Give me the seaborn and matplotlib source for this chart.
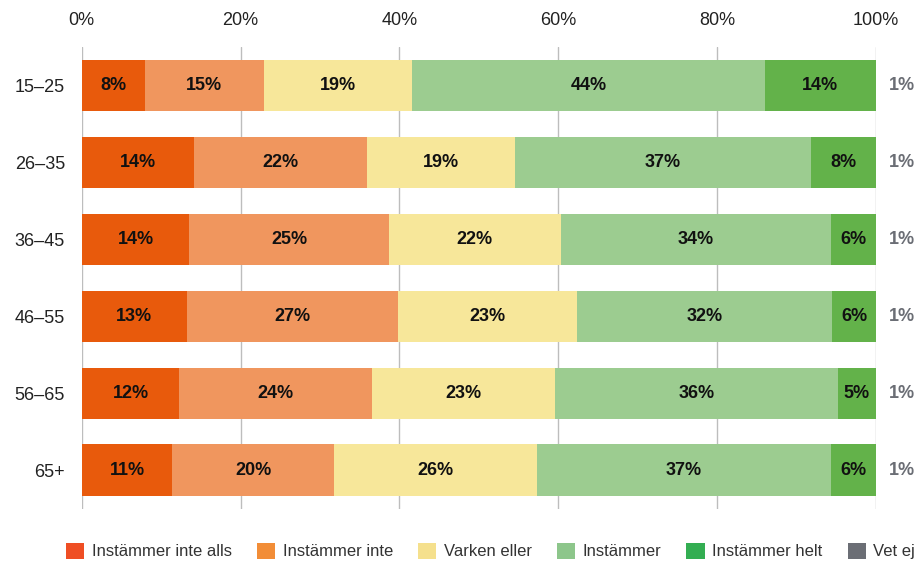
import numpy as np
import pandas as pd
import matplotlib.pyplot as plt
from matplotlib.patches import Patch
import seaborn as sns

groups = ["15–25", "26–35", "36–45", "46–55", "56–65", "65+"]
categories = ["Instämmer inte alls", "Instämmer inte", "Varken eller",
              "Instämmer", "Instämmer helt", "Vet ej"]

inte_alls = [8.0, 14.1, 13.55, 13.2, 12.3, 11.4]
inte = [14.9, 21.8, 25.1, 26.6, 24.2, 20.4]
varken = [18.7, 18.7, 21.7, 22.6, 23.1, 25.55]
instammer = [44.4, 37.2, 33.95, 32.0, 35.6, 37.0]
helt = [14.0, 8.2, 5.7, 5.7, 4.8, 5.65]
vet_ej = [1, 1, 1, 1, 1, 1]

bar_colors = ["#E85A0C", "#F0965E", "#F7E79A", "#9CCC90", "#63B24A", "#6B6E75"]
legend_colors = ["#EF4E24", "#F28D37", "#F5E08D", "#8DC68B", "#33AE52", "#6B6E75"]

series = [inte_alls, inte, varken, instammer, helt, vet_ej]
df = pd.DataFrame({c: v for c, v in zip(categories, series)}, index=groups)
cum = df.cumsum(axis=1)
starts = cum - df

sns.set_theme(style="whitegrid")
plt.rcParams["font.family"] = ["Liberation Sans", "DejaVu Sans"]

fig = plt.figure(figsize=(9.17, 5.63), dpi=100)
ax = fig.add_axes([0.0891, 0.0968, 0.8662, 0.8197])

# stacked bars: draw cumulative totals from the last layer to the first
for cat, col in reversed(list(zip(categories, bar_colors))):
    sns.barplot(x=cum[cat].values, y=groups, orient="h", color=col,
                width=0.665, saturation=1, linewidth=0, ax=ax, zorder=2)

for i, g in enumerate(groups):
    for cat in categories[:-1]:
        v = df.loc[g, cat]
        ax.text(starts.loc[g, cat] + v / 2, i, f"{round(v)}%", ha="center",
                va="center", fontsize=13, fontweight="bold", color="#111111", zorder=3)
    ax.text(103.3, i, f"{df.loc[g, 'Vet ej']}%", ha="center", va="center",
            fontsize=13, fontweight="bold", color="#6B6E75", clip_on=False)

ax.set_xlim(0, 100)
ax.set_ylim(5.5, -0.5)
ax.set_xticks([0, 20, 40, 60, 80, 100])
ax.set_xticklabels(["0%", "20%", "40%", "60%", "80%", "100%"])
ax.xaxis.tick_top()
ax.tick_params(axis="x", length=0, pad=13, labelsize=13, colors="#222222")
ax.tick_params(axis="y", length=0, pad=12, labelsize=13, colors="#222222")
ax.xaxis.grid(True, color="#BDBDBD", linewidth=1)
ax.yaxis.grid(False)
ax.set_axisbelow(True)
ax.set_xlabel("")
ax.set_ylabel("")
for s in ax.spines.values():
    s.set_visible(False)

handles = [Patch(facecolor=c, edgecolor="none") for c in legend_colors]
fig.legend(handles, categories, loc="lower center", bbox_to_anchor=(0.535, -0.02),
           ncol=6, frameon=False, fontsize=12, handlelength=1.1, handleheight=1.1,
           handletextpad=0.45, columnspacing=1.5, labelcolor="#333333")

fig.savefig("out.png", dpi=100)
